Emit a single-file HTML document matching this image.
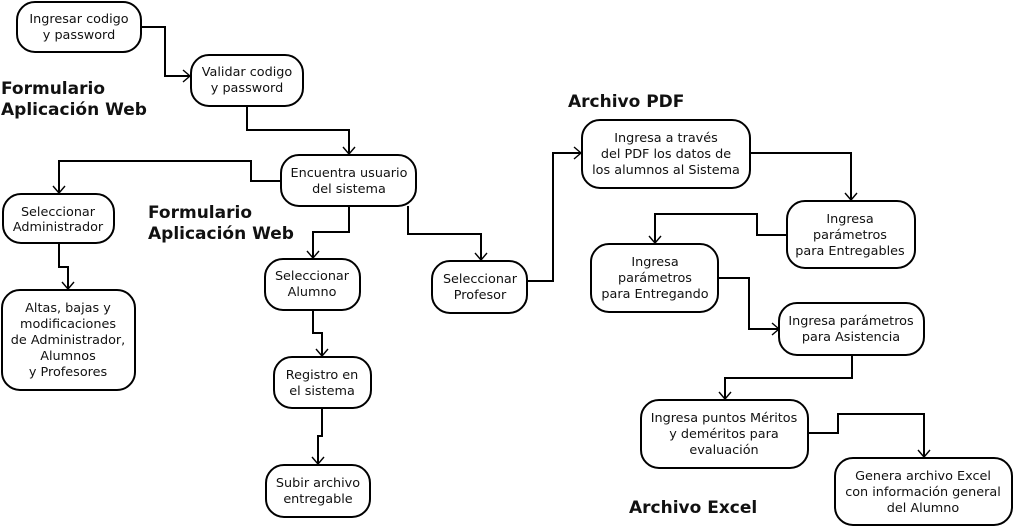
<!DOCTYPE html>
<html><head><meta charset="utf-8"><style>
html,body{margin:0;padding:0;background:#fff;}
svg{display:block;}
text{font-family:"DejaVu Sans","Liberation Sans",sans-serif;font-size:12.8px;fill:#111;}
.h{font-weight:bold;font-size:17px;}
rect{fill:#fff;stroke:#000;stroke-width:2;}
.c{fill:none;stroke:#000;stroke-width:2;}
.a{fill:none;stroke:#000;stroke-width:1.4;}
</style></head><body>
<svg width="1015" height="528" viewBox="0 0 1015 528">
<g class="c">
<polyline points="141,27 165,27 165,76 190,76"/>
<polyline points="247,106 247,130 349,130 349,154"/>
<polyline points="281,181 251,181 251,161 59,161 59,193"/>
<polyline points="59,243 59,267 68,267 68,289"/>
<polyline points="349,206 349,232 313,232 313,258"/>
<polyline points="408,206 408,234 481,234 481,260"/>
<polyline points="313,310 313,333 322,333 322,356"/>
<polyline points="322,408 322,436 318,436 318,464"/>
<polyline points="527,281 553,281 553,153 581,153"/>
<polyline points="750,153 851,153 851,200"/>
<polyline points="787,235 757,235 757,214 655,214 655,243"/>
<polyline points="718,278 749,278 749,329 779,329"/>
<polyline points="852,355 852,378 725,378 725,399"/>
<polyline points="808,433 838,433 838,414 924,414 924,457"/>
</g>
<g class="a">
<polyline points="183,70 190,76 183,82"/>
<polyline points="343,147 349,154 355,147"/>
<polyline points="53,186 59,193 65,186"/>
<polyline points="62,282 68,289 74,282"/>
<polyline points="307,251 313,258 319,251"/>
<polyline points="475,253 481,260 487,253"/>
<polyline points="316,349 322,356 328,349"/>
<polyline points="312,457 318,464 324,457"/>
<polyline points="574,147 581,153 574,159"/>
<polyline points="845,193 851,200 857,193"/>
<polyline points="649,236 655,243 661,236"/>
<polyline points="772,323 779,329 772,335"/>
<polyline points="719,392 725,399 731,392"/>
<polyline points="918,450 924,457 930,450"/>
</g>
<rect x="17" y="2" width="124" height="50" rx="18"/>
<rect x="191" y="55" width="112" height="51" rx="18"/>
<rect x="281" y="155" width="135" height="51" rx="18"/>
<rect x="3" y="194" width="111" height="49" rx="18"/>
<rect x="2" y="290" width="133" height="100" rx="18"/>
<rect x="265" y="259" width="95" height="51" rx="18"/>
<rect x="274" y="357" width="97" height="51" rx="18"/>
<rect x="266" y="465" width="104" height="52" rx="18"/>
<rect x="432" y="261" width="95" height="52" rx="18"/>
<rect x="582" y="120" width="168" height="68" rx="18"/>
<rect x="787" y="201" width="128" height="67" rx="18"/>
<rect x="591" y="244" width="127" height="68" rx="18"/>
<rect x="779" y="303" width="145" height="52" rx="18"/>
<rect x="641" y="400" width="167" height="68" rx="18"/>
<rect x="835" y="458" width="177" height="67" rx="18"/>
<g text-anchor="middle">
<text x="79" y="23">Ingresar codigo</text><text x="79" y="39">y password</text>
<text x="247" y="76">Validar codigo</text><text x="247" y="92">y password</text>
<text x="349" y="177">Encuentra usuario</text><text x="349" y="193">del sistema</text>
<text x="58" y="216">Seleccionar</text><text x="58" y="231">Administrador</text>
<text x="68" y="312">Altas, bajas y</text><text x="68" y="328">modificaciones</text><text x="68" y="344">de Administrador,</text><text x="68" y="360">Alumnos</text><text x="68" y="376">y Profesores</text>
<text x="312" y="280">Seleccionar</text><text x="312" y="296">Alumno</text>
<text x="322" y="379">Registro en</text><text x="322" y="395">el sistema</text>
<text x="318" y="487">Subir archivo</text><text x="318" y="503">entregable</text>
<text x="480" y="283">Seleccionar</text><text x="480" y="299">Profesor</text>
<text x="666" y="142">Ingresa a través</text><text x="666" y="158">del PDF los datos de</text><text x="666" y="174">los alumnos al Sistema</text>
<text x="850" y="223">Ingresa</text><text x="850" y="239">parámetros</text><text x="850" y="255">para Entregables</text>
<text x="655" y="266">Ingresa</text><text x="655" y="282">parámetros</text><text x="655" y="298">para Entregando</text>
<text x="851" y="325">Ingresa parámetros</text><text x="851" y="341">para Asistencia</text>
<text x="724" y="422">Ingresa puntos Méritos</text><text x="724" y="438">y deméritos para</text><text x="724" y="454">evaluación</text>
<text x="923" y="480">Genera archivo Excel</text><text x="923" y="496">con información general</text><text x="923" y="512">del Alumno</text>
</g>
<text class="h" x="1" y="94">Formulario</text><text class="h" x="1" y="115">Aplicación Web</text>
<text class="h" x="148" y="218">Formulario</text><text class="h" x="148" y="239">Aplicación Web</text>
<text class="h" x="568" y="107">Archivo PDF</text>
<text class="h" x="629" y="513">Archivo Excel</text>
</svg>
</body></html>
